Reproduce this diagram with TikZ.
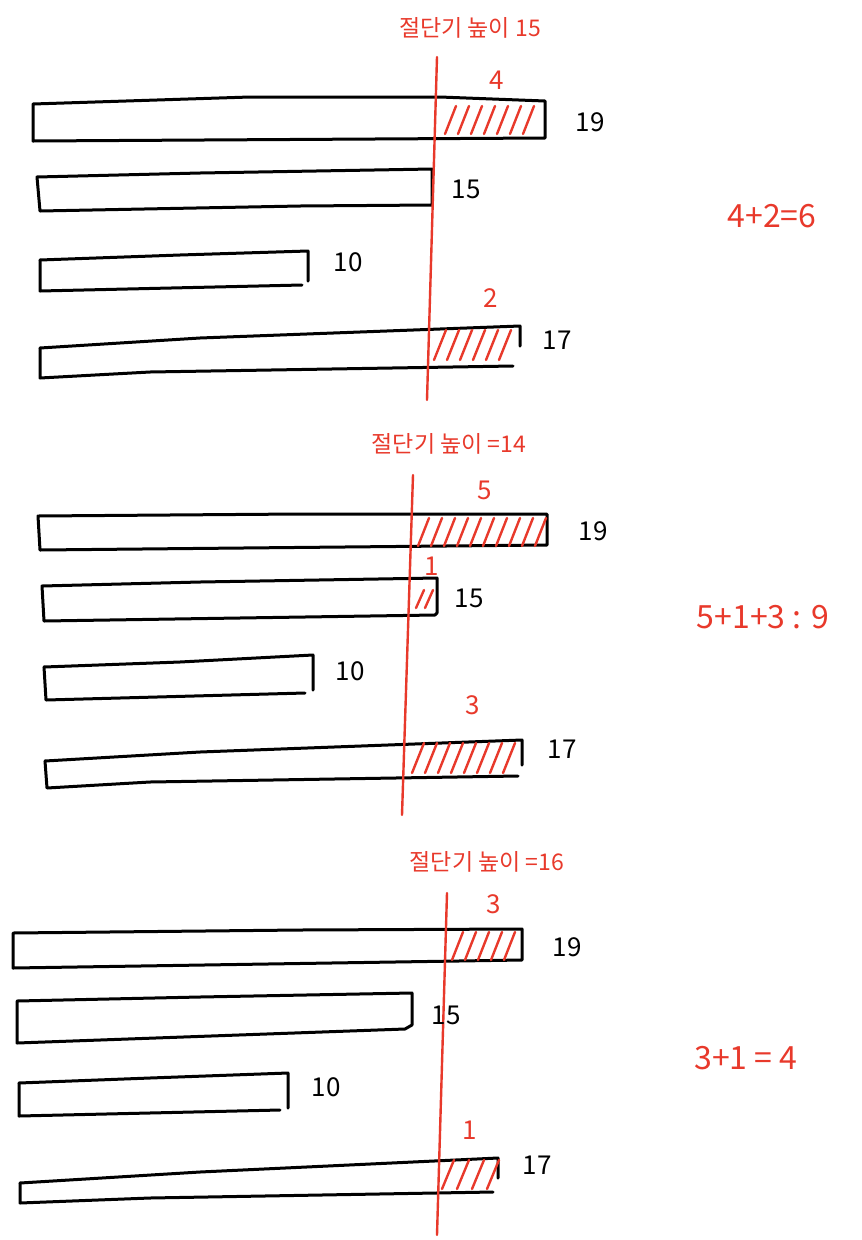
\documentclass[tikz,border=0pt]{standalone}
\usepackage{fontspec}
\setmainfont{Noto Sans CJK KR}
\usepackage{tikz}
\usetikzlibrary{positioning}
\definecolor{pen}{HTML}{E8392B}

\begin{document}
\begin{tikzpicture}[x=1pt,y=-1pt,
  stick/.style={draw=black,line width=3pt,line join=round,line cap=round},
  cutline/.style={draw=pen,line width=2.4pt,line cap=round},
  hatch/.style={draw=pen,line width=2.4pt,line cap=round},
  len/.style={font=\fontsize{26}{26}\selectfont},
  rest/.style={text=pen,font=\fontsize{26}{26}\selectfont},
  title/.style={text=pen,font=\fontsize{23}{23}\selectfont},
  total/.style={text=pen,font=\fontsize{32}{32}\selectfont}]
\useasboundingbox (0,0) rectangle (862,1240);

% cutter height 15
\node[title] (h1) at (470,28) {절단기 높이 15};
\draw[stick] (33,104) -- (250,97) -- (440,97) -- (545,101) -- (545,138) -- (33,141) -- cycle;
\draw[stick] (37,177) -- (200,173) -- (432,169) -- (432,205) -- (300,206) -- (40,211) -- cycle;
\draw[stick] (40,260) -- (180,255) -- (308,251) -- (308,281);
\draw[stick] (40,260) -- (40,291) -- (302,285);
\draw[stick] (40,348) -- (200,338) -- (520,326) -- (520,346);
\draw[stick] (40,348) -- (40,378) -- (150,372) -- (513,366);
\foreach \x in {445,458,...,535} \draw[hatch] (\x,134) -- ({\x+11},106);
\foreach \x in {434,447,...,504} \draw[hatch] (\x,360) -- ({\x+12},330);
\draw[cutline] (437,57) -- (427,400);
\foreach \y/\x/\n [count=\i] in {122/590/19,189/466/15,262/348/10,340/557/17}
  \node[len] (a\i) at (\x,\y) {\n};
\node[rest] (r11) at (497,80) {4};
\node[rest] (r14) at (491,298) {2};
\node[total] (s1) at (772,216) {4+2=6};

% cutter height 14
\node[title] (h2) at (449,444) {절단기 높이 =14};
\draw[stick] (38,516) -- (300,514) -- (547,514) -- (547,545) -- (40,550) -- cycle;
\draw[stick] (42,586) -- (200,582) -- (437,578) -- (437,613) -- (435,615) -- (44,621) -- cycle;
\draw[stick] (44,667) -- (180,662) -- (313,655) -- (313,690);
\draw[stick] (44,667) -- (46,700) -- (305,693);
\draw[stick] (45,761) -- (200,752) -- (522,740) -- (522,765);
\draw[stick] (45,761) -- (47,788) -- (150,782) -- (518,776);
\foreach \x in {418,431,...,535} \draw[hatch] (\x,546) -- ({\x+11},518);
\foreach \x in {416,425} \draw[hatch] (\x,608) -- ({\x+8},590);
\foreach \x in {412,425,...,510} \draw[hatch] (\x,773) -- ({\x+12},743);
\draw[cutline] (413,475) -- (402,815);
\foreach \y/\x/\n [count=\i] in {531/593/19,598/469/15,671/350/10,749/562/17}
  \node[len] (b\i) at (\x,\y) {\n};
\node[rest] (r21) at (485,490) {5};
\node[rest] (r22) at (432,566) {1};
\node[rest] (r24) at (473,705) {3};
\node[total] (s2) at (763,617) {5+1+3 : 9};

% cutter height 16
\node[title] (h3) at (487,862) {절단기 높이 =16};
\draw[stick] (13,933) -- (300,930) -- (522,929) -- (522,960) -- (13,968) -- cycle;
\draw[stick] (17,1001) -- (200,997) -- (412,993) -- (412,1025) -- (405,1029) -- (17,1043) -- cycle;
\draw[stick] (19,1083) -- (150,1078) -- (288,1073) -- (288,1108);
\draw[stick] (19,1083) -- (19,1116) -- (280,1110);
\draw[stick] (20,1183) -- (200,1172) -- (498,1158) -- (498,1178);
\draw[stick] (20,1183) -- (20,1203) -- (150,1198) -- (493,1192);
\foreach \x in {452,465,...,510} \draw[hatch] (\x,960) -- ({\x+11},932);
\foreach \x in {442,457,472,487} \draw[hatch] (\x,1189) -- ({\x+12},1160);
\draw[cutline] (447,893) -- (437,1235);
\foreach \y/\x/\n [count=\i] in {947/567/19,1015/446/15,1087/326/10,1165/537/17}
  \node[len] (c\i) at (\x,\y) {\n};
\node[rest] (r31) at (494,904) {3};
\node[rest] (r34) at (470,1130) {1};
\node[total] (s3) at (746,1058) {3+1 = 4};
\end{tikzpicture}
\end{document}
